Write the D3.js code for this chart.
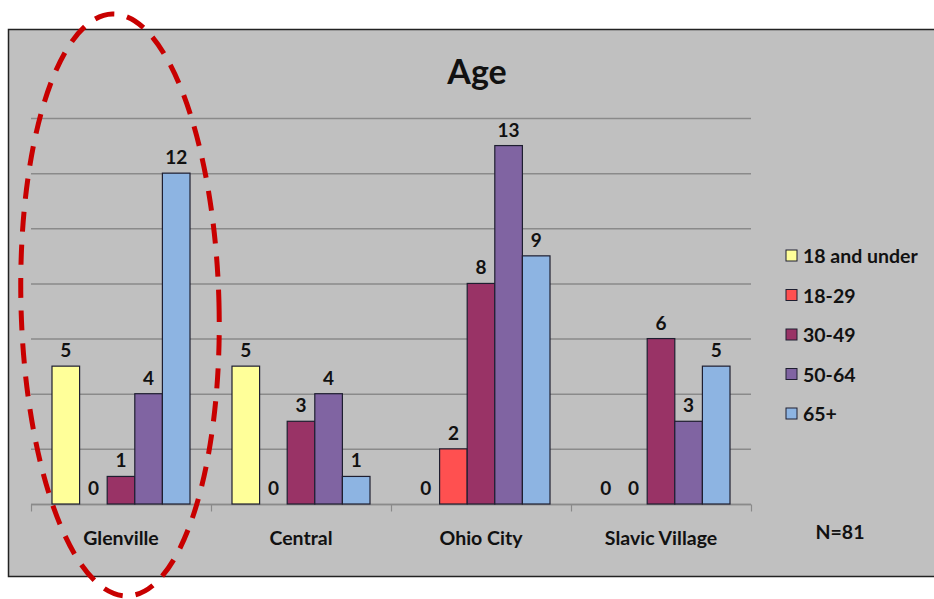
<!DOCTYPE html>
<html><head><meta charset="utf-8">
<script src="https://cdn.jsdelivr.net/npm/d3@7"></script>
<style>body{margin:0;background:#fff}svg{display:block}</style>
</head><body>
<script>
const categories = ["Glenville","Central","Ohio City","Slavic Village"];
const seriesNames = ["18 and under","18-29","30-49","50-64","65+"];
const seriesColors = ["#FFFF99","#FF5050","#993366","#8064A2","#8DB4E2"];
const values = {
  "18 and under": [5,5,0,0],
  "18-29":        [0,0,2,0],
  "30-49":        [1,3,8,6],
  "50-64":        [4,4,13,3],
  "65+":          [12,1,9,5]
};
const yTicks = [0,2,4,6,8,10,12,14];
const title = "Age";
const note = "N=81";

const W=934,H=599;
const svg=d3.select("body").append("svg").attr("width",W).attr("height",H);
const font="Lato, 'Open Sans', sans-serif";

// frame
svg.append("rect").attr("x",8.5).attr("y",29.5).attr("width",940).attr("height",547)
  .attr("fill","#C0C0C0").attr("stroke","#222").attr("stroke-width",1.5);

const x0=d3.scaleBand().domain(categories).range([31,751]);
const y=d3.scaleLinear().domain([0,14]).range([504,118]);
const gap=21;
const x1=d3.scaleBand().domain(seriesNames).range([gap,x0.bandwidth()-gap]);

// gridlines
svg.append("g").selectAll("line").data(yTicks).join("line")
  .attr("x1",31).attr("x2",751).attr("y1",d=>y(d)+0.5).attr("y2",d=>y(d)+0.5)
  .attr("stroke","#8a8a8a").attr("stroke-width",1.5);

// x axis
const ax=svg.append("g").attr("transform",`translate(0,${y(0)+0.5})`);
ax.append("line").attr("x1",31).attr("x2",751).attr("stroke","#8a8a8a").attr("stroke-width",1.5);
const bounds=categories.map(c=>x0(c)).concat([751]);
ax.selectAll("line.tk").data(bounds).join("line").attr("class","tk")
  .attr("x1",d=>d+0.5).attr("x2",d=>d+0.5).attr("y1",0).attr("y2",7).attr("stroke","#8a8a8a").attr("stroke-width",1.2);
ax.selectAll("text.cat").data(categories).join("text").attr("class","cat")
  .attr("x",d=>x0(d)+x0.bandwidth()/2).attr("y",40).attr("text-anchor","middle")
  .attr("font-family",font).attr("font-weight","bold").attr("font-size",19.5).attr("fill","#111").text(d=>d);

// bars
const groups=svg.append("g").selectAll("g").data(categories).join("g")
  .attr("transform",d=>`translate(${x0(d)},0)`);
groups.each(function(cat,ci){
  const g=d3.select(this);
  const rows=seriesNames.map((s,si)=>({s,si,v:values[s][ci]}));
  g.selectAll("rect").data(rows.filter(r=>r.v>0)).join("rect")
    .attr("x",r=>x1(r.s)).attr("width",x1.bandwidth())
    .attr("y",r=>y(r.v)).attr("height",r=>y(0)-y(r.v))
    .attr("fill",r=>seriesColors[r.si]).attr("stroke","#1e1e30").attr("stroke-width",1.2);
  g.selectAll("text").data(rows).join("text")
    .attr("x",r=>x1(r.s)+x1.bandwidth()/2).attr("y",r=>y(r.v)-9)
    .attr("text-anchor","middle").attr("font-family",font).attr("font-weight","bold")
    .attr("font-size",19).attr("fill","#111").text(r=>r.v);
});

// title
svg.append("text").attr("x",477).attr("y",84).attr("text-anchor","middle")
  .attr("font-family",font).attr("font-weight","bold").attr("font-size",34).attr("fill","#111").text(title);

// legend
const lg=svg.append("g").selectAll("g").data(seriesNames).join("g")
  .attr("transform",(d,i)=>`translate(786,${256+i*39.5})`);
lg.append("rect").attr("x",0).attr("y",-6).attr("width",11).attr("height",11)
  .attr("fill",(d,i)=>seriesColors[i]).attr("stroke","#1e1e30").attr("stroke-width",1);
lg.append("text").attr("x",17).attr("y",7).attr("font-family",font).attr("font-weight","bold")
  .attr("font-size",19.5).attr("fill","#111").text(d=>d);

svg.append("text").attr("x",840).attr("y",539).attr("text-anchor","middle")
  .attr("font-family",font).attr("font-weight","bold").attr("font-size",19.5).attr("fill","#111").text(note);

// red dashed ellipse
svg.append("ellipse").attr("cx",120).attr("cy",305).attr("rx",99).attr("ry",291)
  .attr("transform","rotate(-1.5,120,305)")
  .attr("fill","none").attr("stroke","#C80000").attr("stroke-width",5).attr("stroke-dasharray","20,13");
</script>
</body></html>
